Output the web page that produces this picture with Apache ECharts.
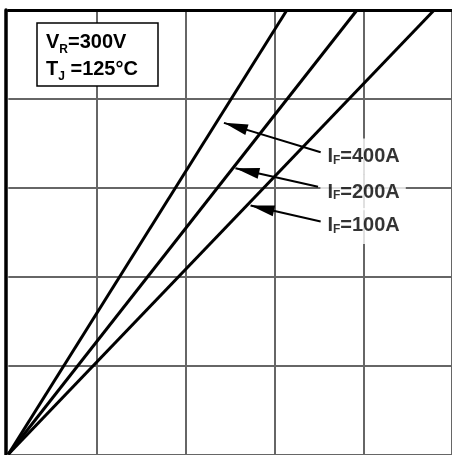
<!DOCTYPE html>
<html><head><meta charset="utf-8">
<script src="https://cdn.jsdelivr.net/npm/echarts@6/dist/echarts.min.js"></script>
<style>html,body{margin:0;padding:0;background:#fff}#c{width:452px;height:455px}</style>
</head><body><div id="c"></div>
<script>
// axis ranges / ticks (no tick labels shown in the reference)
const xTicks = [0, 1, 2, 3, 4, 5];
const yTicks = [0, 1, 2, 3, 4, 5];

// curves (straight lines from origin)
const curve400 = [[0, 0], [3.14, 5]];
const curve200 = [[0, 0], [3.93, 5]];
const curve100 = [[0, 0], [4.80, 5]];

// annotations
const labelMain = ['I', 'I', 'I'];
const labelSubs = ['F', 'F', 'F'];
const labelValues = ['=400A', '=200A', '=100A'];
const labelAnchors = [[3.517, 3.35], [3.517, 2.95], [3.517, 2.57]];
const arrowTails = [[3.52, 3.40], [3.49, 3.01], [3.52, 2.62]];
const arrowTips = [[2.43, 3.73], [2.56, 3.22], [2.73, 2.80]];

// condition box
const boxLines = [['V', 'R', '=300V'], ['T', 'J', ' =125°C']];

const FONT = 'Liberation Sans, Arial, sans-serif';
const chart = echarts.init(document.getElementById('c'));

const boxText = boxLines.map(l => '{m|' + l[0] + '}{s|' + l[1] + '}{m|' + l[2] + '}').join('\n');

const labelData = labelAnchors.map((p, i) => ({
  value: p,
  label: { formatter: '{m|' + labelMain[i] + '}{s|' + labelSubs[i] + '}{m|' + labelValues[i] + '}' }
}));

const arrowData = arrowTails.map((t, i) => [
  { coord: t, symbol: 'none' },
  { coord: arrowTips[i], symbol: 'triangle', symbolSize: [11, 24], symbolOffset: [0, 12] }
]);

const lineStyleCurve = { color: '#000', width: 3 };
const gridGray = '#666';

chart.setOption({
  animation: false,
  backgroundColor: '#fff',
  title: {
    text: boxText,
    left: 37, top: 19,
    padding: [10, 20, 3, 9],
    borderColor: '#000', borderWidth: 1.5,
    backgroundColor: '#fff',
    textStyle: {
      rich: {
        m: { fontSize: 20, fontWeight: 'bold', fontFamily: FONT, color: '#000', lineHeight: 27 },
        s: { fontSize: 12, fontWeight: 'bold', fontFamily: FONT, color: '#000', lineHeight: 8, verticalAlign: 'bottom' }
      }
    }
  },
  grid: { left: 8.3, top: 10, width: 446, height: 444.3 },
  xAxis: [{
    type: 'value', min: xTicks[0], max: xTicks[xTicks.length - 1], interval: 1,
    axisLine: { show: false }, axisTick: { show: false }, axisLabel: { show: false },
    splitLine: { show: true, lineStyle: { color: ['rgba(0,0,0,0)', gridGray, gridGray, gridGray, gridGray, gridGray], width: 2 } }
  }, {
    type: 'value', position: 'top', min: xTicks[0], max: xTicks[xTicks.length - 1], interval: 1,
    axisLine: { show: true, lineStyle: { color: '#000', width: 3 } },
    axisTick: { show: false }, axisLabel: { show: false }, splitLine: { show: false }
  }],
  yAxis: {
    type: 'value', min: yTicks[0], max: yTicks[yTicks.length - 1], interval: 1, offset: 3,
    axisLine: { show: true, onZero: false, lineStyle: { color: '#000', width: 3.5 } },
    axisTick: { show: false }, axisLabel: { show: false },
    splitLine: { show: true, lineStyle: { color: gridGray, width: 2 } }
  },
  series: [
    { type: 'line', data: curve400, symbol: 'none', lineStyle: lineStyleCurve, z: 3 },
    { type: 'line', data: curve200, symbol: 'none', lineStyle: lineStyleCurve, z: 3 },
    { type: 'line', data: curve100, symbol: 'none', lineStyle: lineStyleCurve, z: 3 },
    {
      type: 'scatter', data: labelData, symbolSize: 0, z: 4,
      label: {
        show: true, position: 'right', distance: 0,
        backgroundColor: '#fff', padding: [8, 6, 8, 7],
        rich: {
          m: { fontSize: 20, fontWeight: 'bold', fontFamily: FONT, color: '#000', lineHeight: 20 },
          s: { fontSize: 12, fontWeight: 'bold', fontFamily: FONT, color: '#000', lineHeight: 10, verticalAlign: 'bottom' }
        }
      },
      markLine: {
        silent: true, animation: false,
        symbol: ['none', 'triangle'],
        label: { show: false },
        lineStyle: { color: '#000', width: 2, type: 'solid' },
        itemStyle: { color: '#000' },
        emphasis: { disabled: true },
        data: arrowData
      }
    }
  ]
});
</script></body></html>
